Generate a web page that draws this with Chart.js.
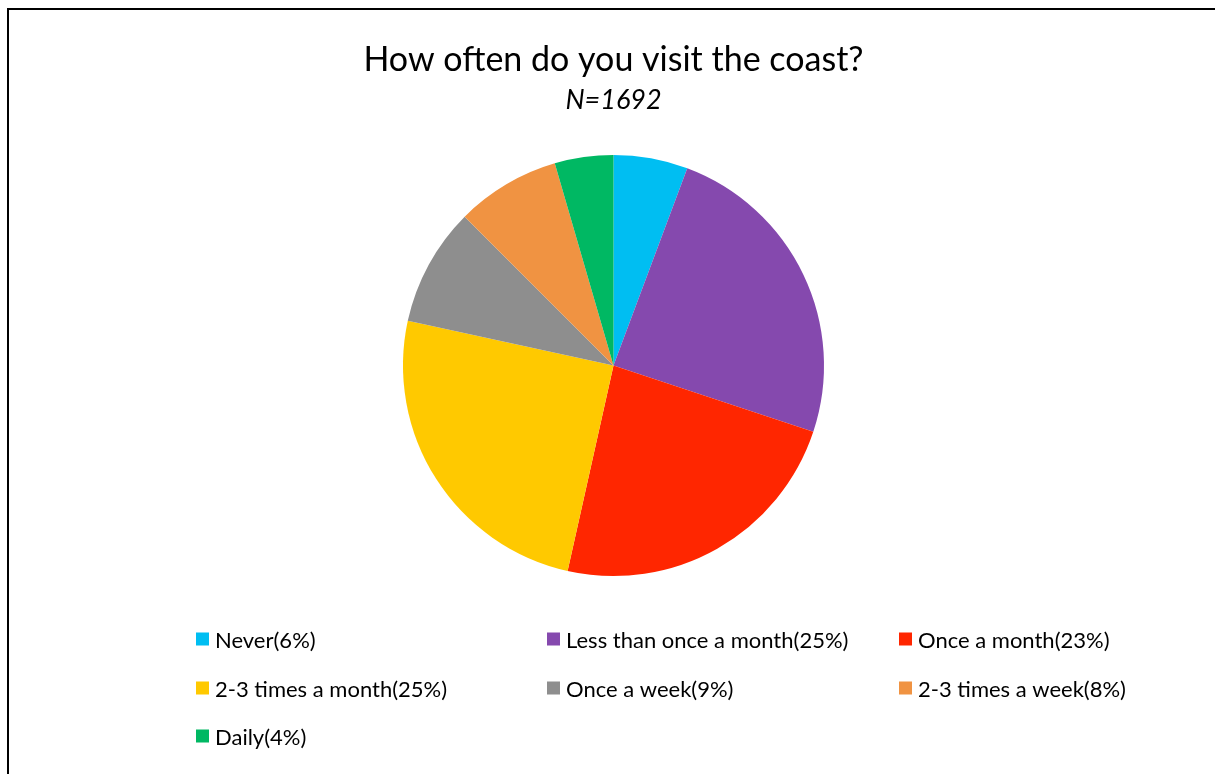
<!DOCTYPE html>
<html>
<head>
<meta charset="utf-8">
<script src="https://cdn.jsdelivr.net/npm/chart.js@4/dist/chart.umd.min.js"></script>
<style>
    html, body { margin: 0; padding: 0; background: #fff; overflow: hidden; }
    canvas { display: block; }
</style>
</head>
<body>
<canvas id="pie" width="1215" height="774"></canvas>
<script>
const categories = ["Never", "Less than once a month", "Once a month", "2-3 times a month", "Once a week", "2-3 times a week", "Daily"];
// shares in percent
const shares = [5.7, 24.4, 23.4, 24.9, 9.1, 8.0, 4.5];
// percentages as printed in the legend
const legendPercents = [6, 25, 23, 25, 9, 8, 4];
const colors = ["#00BEF2", "#8549AE", "#FF2600", "#FFC900", "#8E8E8E", "#F09342", "#00B863"];

const FONT = "Lato, 'Open Sans', sans-serif";

// frame line on the left and top edge
const frame = {
    id: 'frame',
    beforeDraw(chart) {
        const ctx = chart.ctx;
        ctx.save();
        ctx.strokeStyle = '#000';
        ctx.lineWidth = 2;
        ctx.beginPath();
        ctx.moveTo(8, chart.height);
        ctx.lineTo(8, 9);
        ctx.lineTo(chart.width, 9);
        ctx.stroke();
        ctx.restore();
    }
};

// legend in 3 columns under the pie, like the original
const gridLegend = {
    id: 'gridLegend',
    afterDraw(chart) {
        const ctx = chart.ctx;
        const colX = [196, 547, 899];
        const rowY = [640, 689, 737];
        const box = 13;
        ctx.save();
        ctx.font = "22px " + FONT;
        ctx.textBaseline = 'middle';
        chart.data.labels.forEach((label, i) => {
            const x = colX[i % 3];
            const y = rowY[Math.floor(i / 3)];
            ctx.fillStyle = chart.data.datasets[0].backgroundColor[i];
            ctx.fillRect(x, y - box / 2 - 1, box, box);
            ctx.fillStyle = '#000';
            ctx.fillText(label + "(" + legendPercents[i] + "%)", x + 19, y + 1);
        });
        ctx.restore();
    }
};

new Chart(document.getElementById('pie'), {
    type: 'pie',
    data: {
        labels: categories,
        datasets: [{
            data: shares,
            backgroundColor: colors,
            borderWidth: 0
        }]
    },
    options: {
        responsive: false,
        animation: false,
        layout: {
            padding: { left: 12, right: 0, top: 0, bottom: 198 }
        },
        plugins: {
            legend: { display: false },
            tooltip: { enabled: false },
            title: {
                display: true,
                text: "How often do you visit the coast?",
                color: '#000',
                font: { family: FONT, size: 34, weight: 'normal', lineHeight: 1.2 },
                padding: { top: 40, bottom: 0 }
            },
            subtitle: {
                display: true,
                text: "N=1692",
                color: '#000',
                font: { family: FONT, size: 27, style: 'italic', weight: 'normal', lineHeight: 1.2 },
                padding: { top: 3, bottom: 38.8 }
            }
        }
    },
    plugins: [frame, gridLegend]
});
</script>
</body>
</html>
